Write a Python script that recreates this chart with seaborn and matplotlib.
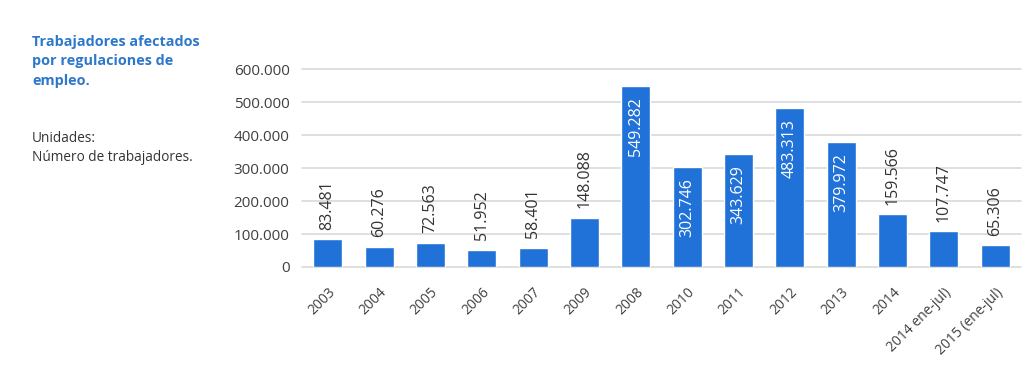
import pandas as pd
import seaborn as sns
import matplotlib.pyplot as plt
from matplotlib.ticker import FuncFormatter

# -----------------------------
# Data
# -----------------------------
periods = ['2003', '2004', '2005', '2006', '2007', '2009', '2008', '2010',
           '2011', '2012', '2013', '2014', '2014 ene-jul)', '2015 (ene-jul)']
workers = [83481, 60276, 72563, 51952, 58401, 148088, 549282, 302746,
           343629, 483313, 379972, 159566, 107747, 65306]

df = pd.DataFrame({'Periodo': periods, 'Trabajadores': workers})

def miles(v):
    return f"{int(v):,}".replace(',', '.')

# -----------------------------
# Plot
# -----------------------------
sns.set_style('white')
plt.rcParams['font.family'] = ['Open Sans', 'DejaVu Sans']

fig = plt.figure(figsize=(10.35, 3.7), dpi=100)
ax = fig.add_axes([0.2918, 0.2784, 0.6947, 0.535])

bar_color = '#2172d8'
sns.barplot(data=df, x='Periodo', y='Trabajadores', color=bar_color,
            saturation=1, width=0.565, ax=ax, zorder=3)

ax.set_ylim(0, 600000)
ax.set_xlim(-0.5, 13.5)
ax.set_yticks(range(0, 600001, 100000))
ax.yaxis.set_major_formatter(FuncFormatter(lambda v, p: miles(v)))
ax.grid(axis='y', color='#d9d9d9', linewidth=1.2, zorder=0)
for gl in ax.get_ygridlines():
    gl.set_clip_on(False)
sns.despine(ax=ax, left=True, bottom=True, top=True, right=True)
ax.tick_params(axis='y', length=0, pad=9, labelsize=11, labelcolor='#404040')
ax.tick_params(axis='x', length=0, pad=13, labelsize=10, labelcolor='#404040')
plt.setp(ax.get_xticklabels(), rotation=45, ha='right', rotation_mode='anchor')
ax.set_xlabel('')
ax.set_ylabel('')

# value labels
for i, v in enumerate(workers):
    if v > 250000:
        ax.annotate(miles(v), (i, v), xytext=(0, -8), textcoords='offset points',
                    rotation=90, ha='center', va='top', color='white',
                    fontsize=11.5, zorder=4)
    else:
        ax.annotate(miles(v), (i, v), xytext=(0, 7), textcoords='offset points',
                    rotation=90, ha='center', va='bottom', color='#333333',
                    fontsize=11.5, zorder=4)

# side texts
fig.text(0.031, 0.905, 'Trabajadores afectados\npor regulaciones de\nempleo.',
         color='#2e78cc', fontsize=10.4, fontweight='bold', va='top',
         linespacing=1.48)
fig.text(0.031, 0.645, 'Unidades:\nNúmero de trabajadores.',
         color='#333333', fontsize=9.8, va='top', linespacing=1.32)

plt.savefig('out.png', dpi=100)
